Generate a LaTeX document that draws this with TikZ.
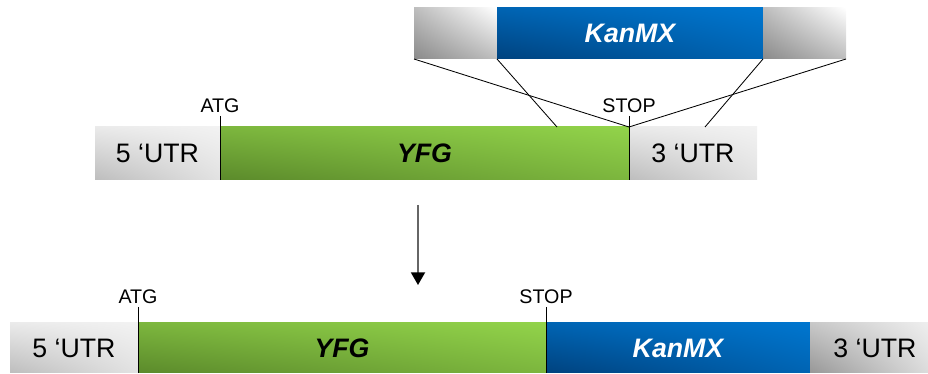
\documentclass[tikz,border=0pt]{standalone}
\usepackage{fontspec}
\setmainfont{Liberation Sans}
\usetikzlibrary{positioning,calc,arrows.meta,shadings}
\definecolor{greyhi}{HTML}{F2F2F2}
\definecolor{greylo}{HTML}{BDBDBD}
\definecolor{greydk}{HTML}{8A8A8A}
\definecolor{yfghi}{HTML}{92D34A}
\definecolor{yfglo}{HTML}{5B8A2B}
\definecolor{kanhi}{HTML}{0076CF}
\definecolor{kanlo}{HTML}{00427E}

\begin{document}
\begin{tikzpicture}[
  seg/.style={inner sep=0pt,outer sep=0pt,anchor=west},
  utr/.style={seg,upper right=greyhi,upper left=greyhi!85!greylo,
              lower right=greyhi!70!greylo,lower left=greylo,
              font=\fontsize{19}{23}\selectfont},
  flank/.style={seg,upper right=white,upper left=greylo,
                lower right=greylo,lower left=greydk},
  gene/.style={seg,upper right=yfghi,upper left=yfghi!60!yfglo,
               lower right=yfghi!60!yfglo,lower left=yfglo,
               font=\fontsize{19}{23}\selectfont\bfseries\itshape},
  marker/.style={seg,upper right=kanhi,upper left=kanhi!65!kanlo,
                 lower right=kanhi!65!kanlo,lower left=kanlo,text=white,
                 font=\fontsize{19}{23}\selectfont\bfseries\itshape},
  tag/.style={font=\fontsize{14}{16}\selectfont,inner sep=2pt,anchor=south},
  thin/.style={line width=0.6pt}
]
\useasboundingbox (0,0) rectangle (23.2,9.35);

% Cassette: KanMX with flanking homology
\node[flank,minimum width=2.075cm,minimum height=1.275cm] (lhom) at (10.35,8.5125) {};
\node[marker,minimum width=6.65cm,minimum height=1.275cm,right=0pt of lhom] (kan) {KanMX};
\node[flank,minimum width=2.075cm,minimum height=1.275cm,right=0pt of kan] (rhom) {};

% Row 1: genomic locus
\node[utr,minimum width=3.125cm,minimum height=1.325cm] (utr5) at (2.375,5.5125) {5 ‘UTR};
\node[gene,minimum width=10.225cm,minimum height=1.325cm,right=0pt of utr5] (yfg) {YFG};
\node[utr,minimum width=3.2cm,minimum height=1.325cm,right=0pt of yfg] (utr3) {3 ‘UTR};

\node[tag] (atg)  at ($(yfg.north west)+(0,0.275)$) {ATG};
\node[tag] (stop) at ($(yfg.north east)+(0,0.275)$) {STOP};
\draw[thin] (atg.south)  -- (yfg.south west);
\draw[thin] (stop.south) -- (yfg.south east);

% crossover lines
\coordinate (inL) at ($(yfg.north east)+(-1.8,0)$);
\coordinate (inR) at ($(utr3.north west)+(1.9,0)$);
\draw[thin] (lhom.south west) -- (yfg.north east);
\draw[thin] (rhom.south east) -- (yfg.north east);
\draw[thin] (kan.south west)  -- (inL);
\draw[thin] (kan.south east)  -- (inR);

% recombination
\coordinate (top) at (10.45,4.225);
\coordinate (bot) at (10.45,2.225);
\draw[draw=gray!80!black,line width=1.2pt,-{Triangle[length=9pt,width=10pt,black]}] (top) -- (bot);

% Row 2: deletion allele
\node[utr,minimum width=3.2cm,minimum height=1.25cm] (utr5b) at (0.25,0.65) {5 ‘UTR};
\node[gene,minimum width=10.2cm,minimum height=1.25cm,right=0pt of utr5b] (yfgb) {YFG};
\node[marker,minimum width=6.6cm,minimum height=1.25cm,right=0pt of yfgb] (kanb) {KanMX};
\node[utr,minimum width=3.25cm,minimum height=1.25cm,right=0pt of kanb,
      upper left=greylo!80!greyhi,lower left=greylo!80!black] (utr3b) {3 ‘UTR};

\node[tag] (atgb)  at ($(yfgb.north west)+(0,0.4)$) {ATG};
\node[tag] (stopb) at ($(yfgb.north east)+(0,0.4)$) {STOP};
\draw[thin] (atgb.south)  -- (yfgb.south west);
\draw[thin] (stopb.south) -- (yfgb.south east);
\end{tikzpicture}
\end{document}
